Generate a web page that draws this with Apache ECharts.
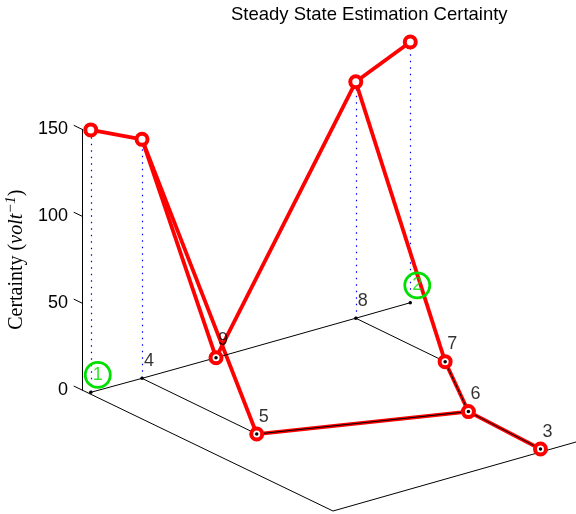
<!DOCTYPE html>
<html>
<head>
<meta charset="utf-8">
<script src="https://cdn.jsdelivr.net/npm/echarts@6/dist/echarts.min.js"></script>
<style>
  html, body { margin: 0; padding: 0; background: #fff; }
  #chart { width: 576px; height: 514px; }
</style>
</head>
<body>
<div id="chart"></div>
<script>
// Sensor network: node layout on the floor plane, steady-state certainty as height
const nodeNames = ['1', '2', '3', '4', '5', '6', '7', '8', '9'];
const nodeX = [0.05, 6.41, 4.23, 1.06, 1.05, 4.30, 5.31, 5.32, 2.53];
const nodeY = [0.25, 0.31, 9.84, 0.28, 4.87, 6.83, 3.89, 0.31, 0.30];
const certainty = [151, 150, 0, 137.5, 0, 0, 0, 136, 0];
const sensorNodes = ['1', '2'];
const edgeFrom = ['1', '4', '4', '9', '8', '8', '5', '7', '6'];
const edgeTo = ['4', '9', '5', '8', '2', '7', '6', '6', '3'];
const zTicks = [0, 50, 100, 150];
const floorX = [0, 10];
const floorY = [0, 10];

// Oblique 3-D view: screen step per unit of x, y and z
const view = {
  ox: 82, oy: 390,
  xStep: [50, -14.2],
  yStep: [25.1, 12.1],
  zStep: 1.738,
  labelLift: 10,
  tickLen: 0.33
};
function project(x, y, z) {
  return [
    view.ox + x * view.xStep[0] + y * view.yStep[0],
    view.oy + x * view.xStep[1] + y * view.yStep[1] - z * view.zStep
  ];
}
const idx = name => nodeNames.indexOf(name);
const zMax = zTicks[zTicks.length - 1];

// Floor frame: the two front edges of the box plus the slanted z ticks
const frameLines = [
  { coords: [project(floorX[0], floorY[0], 0), project(floorX[0], floorY[1], 0)] },
  { coords: [project(floorX[0], floorY[1], 0), project(floorX[1], floorY[1], 0)] }
].concat(zTicks.map(t => ({
  coords: [project(floorX[0], floorY[0], t), project(floorX[0], floorY[0] - view.tickLen, t)]
})));

const stems = nodeNames.filter((n, i) => certainty[i] > 0).map(n => {
  const i = idx(n);
  return { coords: [project(nodeX[i], nodeY[i], 0), project(nodeX[i], nodeY[i], certainty[i])] };
});

const liftedEdges = edgeFrom.map((a, k) => {
  const i = idx(a), j = idx(edgeTo[k]);
  return { coords: [project(nodeX[i], nodeY[i], certainty[i]), project(nodeX[j], nodeY[j], certainty[j])] };
});

const floorEdges = edgeFrom.map((a, k) => {
  const i = idx(a), j = idx(edgeTo[k]);
  return { coords: [project(nodeX[i], nodeY[i], 0), project(nodeX[j], nodeY[j], 0)] };
});

const topPoints = nodeNames.map((n, i) => project(nodeX[i], nodeY[i], certainty[i]));
const floorPoints = nodeNames.map((n, i) => project(nodeX[i], nodeY[i], 0));
const labelPoints = nodeNames.map((n, i) => ({
  name: n,
  value: project(nodeX[i], nodeY[i], view.labelLift),
  label: { color: sensorNodes.includes(n) ? '#00dd00' : '#000000' }
}));
const sensorPoints = sensorNodes.map(n => {
  const i = idx(n);
  return project(nodeX[i], nodeY[i], view.labelLift);
});

const font = 'Liberation Sans, Arial, Helvetica, sans-serif';
const serif = 'Liberation Serif, Times New Roman, serif';
const chart = echarts.init(document.getElementById('chart'), null, { renderer: 'canvas' });
chart.setOption({
  animation: false,
  backgroundColor: '#fff',
  title: {
    text: 'Steady State Estimation Certainty',
    left: 231, top: 5, padding: 0,
    textStyle: { fontFamily: font, fontSize: 18.5, fontWeight: 'normal', color: '#000' }
  },
  grid: [
    { left: 0, right: 0, top: 0, bottom: 0 },
    { left: view.ox, top: view.oy - zMax * view.zStep, height: zMax * view.zStep, width: 10 }
  ],
  xAxis: [
    { gridIndex: 0, type: 'value', min: 0, max: 576, show: false },
    { gridIndex: 1, type: 'value', min: 0, max: 1, show: false }
  ],
  yAxis: [
    { gridIndex: 0, type: 'value', min: 0, max: 514, inverse: true, show: false },
    {
      gridIndex: 1, type: 'value', min: 0, max: zMax, interval: 50,
      axisLine: { show: true, lineStyle: { color: '#000', width: 1 } },
      axisTick: { show: false },
      splitLine: { show: false },
      axisLabel: {
        margin: 14, color: '#000', fontFamily: font, fontSize: 18,
        padding: [0, 0, 4, 0]
      },
      name: '{rm|Certainty }{rm|(}{it|volt}{sup|−1}{rm|)}',
      nameLocation: 'middle',
      nameRotate: 90,
      nameGap: 52,
      nameTextStyle: {
        rich: {
          rm: { fontFamily: serif, fontSize: 20, color: '#000', lineHeight: 26 },
          it: { fontFamily: serif, fontStyle: 'italic', fontSize: 20, color: '#000', lineHeight: 26 },
          sup: { fontFamily: serif, fontStyle: 'italic', fontSize: 15, color: '#000', verticalAlign: 'top', lineHeight: 15 }
        }
      }
    }
  ],
  series: [
    {
      type: 'lines', coordinateSystem: 'cartesian2d', z: 1, silent: true,
      data: frameLines,
      lineStyle: { color: '#000', width: 1, opacity: 1 }
    },
    {
      type: 'lines', coordinateSystem: 'cartesian2d', z: 2, silent: true,
      data: stems,
      lineStyle: { color: '#0000ff', width: 1.2, opacity: 1, type: [1.5, 5] }
    },
    {
      type: 'lines', coordinateSystem: 'cartesian2d', z: 3, silent: true,
      data: liftedEdges,
      lineStyle: { color: '#ff0000', width: 3.8, opacity: 1 }
    },
    {
      type: 'lines', coordinateSystem: 'cartesian2d', z: 4, silent: true,
      data: floorEdges,
      lineStyle: { color: '#000', width: 1, opacity: 1 }
    },
    {
      type: 'scatter', z: 5, silent: true,
      data: topPoints,
      symbol: 'circle', symbolSize: 11,
      itemStyle: { color: '#fff', borderColor: '#ff0000', borderWidth: 4, opacity: 1 }
    },
    {
      type: 'scatter', z: 6, silent: true,
      data: floorPoints,
      symbol: 'circle', symbolSize: 3.5,
      itemStyle: { color: '#000', opacity: 1 }
    },
    {
      type: 'scatter', z: 7, silent: true,
      data: sensorPoints,
      symbol: 'circle', symbolSize: 25, symbolOffset: [7, 0],
      itemStyle: { color: 'rgba(0,0,0,0)', borderColor: '#00e000', borderWidth: 2.8, opacity: 1 }
    },
    {
      type: 'scatter', z: 8, silent: true,
      data: labelPoints,
      symbolSize: 0,
      label: {
        show: true, position: 'right', distance: 2,
        formatter: p => p.name,
        color: '#000000', textBorderWidth: 0,
        fontFamily: font, fontSize: 18
      }
    }
  ]
});
</script>
</body>
</html>
